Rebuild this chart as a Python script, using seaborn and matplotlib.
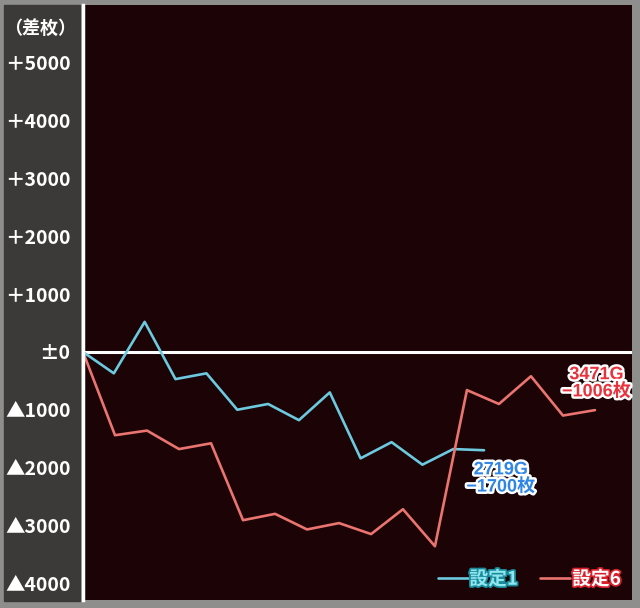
import numpy as np
import pandas as pd
import matplotlib
matplotlib.use("Agg")
import matplotlib.pyplot as plt
import matplotlib.patheffects as pe
from matplotlib.patches import Rectangle
import seaborn as sns

# games played (x) and coin difference (y) for each setting
games_s1 = [0, 209, 418, 627, 837, 1046, 1255, 1464, 1673, 1882, 2092, 2301, 2510, 2719]
diff_s1 = [0, -370, 520, -470, -370, -1000, -900, -1180, -700, -1840, -1560, -1950, -1680, -1700]

games_s6 = [0, 217, 434, 651, 868, 1085, 1302, 1519, 1736, 1953, 2169, 2386, 2603,
            2820, 3037, 3254, 3471]
diff_s6 = [0, -1440, -1360, -1680, -1580, -2910, -2800, -3070, -2960, -3150, -2720, -3360,
           -660, -900, -420, -1100, -1006]

settings = ["設定1", "設定6"]
tick_values = [5000, 4000, 3000, 2000, 1000, 0, -1000, -2000, -3000, -4000]
tick_labels = ["＋5000", "＋4000", "＋3000", "＋2000", "＋1000", "±0",
               "▲1000", "▲2000", "▲3000", "▲4000"]

df = pd.DataFrame({
    "games": games_s1 + games_s6,
    "diff": diff_s1 + diff_s6,
    "setting": [settings[0]] * len(games_s1) + [settings[1]] * len(games_s6),
})

sns.set_style("dark")
plt.rcParams["font.family"] = ["Noto Sans CJK JP", "DejaVu Sans"]
latin = ["Liberation Sans", "Noto Sans CJK JP", "DejaVu Sans"]

W, H = 640, 608
fig = plt.figure(figsize=(6.4, 6.08), dpi=100, facecolor="#8e8e8c")

# grey label panel on the left (drawn under the axes so tick labels stay visible)
fig.patches.append(Rectangle((4 / W, 1 - 601 / H), 76 / W, 596 / H,
                             transform=fig.transFigure, color="#3c3a38", zorder=-1))

ax = fig.add_axes([83 / W, 1 - 600 / H, 549 / W, 595 / H])
ax.set_facecolor("#1b0306")

colors = {"設定1": "#6cc9de", "設定6": "#ea7470"}
sns.lineplot(data=df, x="games", y="diff", hue="setting", palette=colors,
             linewidth=1.9, ax=ax, legend=False, sort=False)

ax.axhline(0, color="white", linewidth=2.2, zorder=1)
ax.set_xlim(0, 3722)
ax.set_ylim(-4290, 6000)
ax.grid(False)
ax.set_xticks([])
ax.set_xlabel("")
ax.set_ylabel("")
ax.set_yticks(tick_values)
ax.set_yticklabels(tick_labels, fontsize=14, fontweight="bold", color="white")
ax.tick_params(axis="y", length=0, pad=9)
for side in ["top", "right", "bottom"]:
    ax.spines[side].set_visible(False)
ax.spines["left"].set_color("white")
ax.spines["left"].set_linewidth(2.5)

fig.text(76 / W, 1 - 28 / H, "（差枚）", ha="right", va="center",
         fontsize=13, fontweight="bold", color="white")

# end-point annotations
outline = [pe.withStroke(linewidth=3.5, foreground="white")]
ax.annotate("3471G\n−1006枚", xy=(games_s6[-1], diff_s6[-1]), xytext=(1, 7),
            textcoords="offset points", ha="center", va="bottom", fontsize=13,
            fontweight="bold", color="#e8323c", linespacing=1.0, path_effects=outline,
            family=latin)
ax.annotate("2719G\n−1700枚", xy=(games_s1[-1], diff_s1[-1]), xytext=(12, -8),
            textcoords="offset points", ha="center", va="top", fontsize=13,
            fontweight="bold", color="#2f86e6", linespacing=1.0, path_effects=outline,
            family=latin)

handles = ax.get_lines()[:2]
leg = ax.legend(handles, settings, loc="lower right", frameon=False, ncol=2,
                handlelength=1.6, handletextpad=0.1, columnspacing=1.2,
                prop={"weight": "bold", "size": 13.5}, labelcolor=["#8fe6ef", "#ffffff"],
                borderaxespad=0.2)
leg.get_texts()[0].set_path_effects([pe.withStroke(linewidth=2.5, foreground="#1a8a9a")])
leg.get_texts()[1].set_path_effects([pe.withStroke(linewidth=2.5, foreground="#d8202c")])

fig.savefig("out.png", dpi=100, facecolor=fig.get_facecolor())
